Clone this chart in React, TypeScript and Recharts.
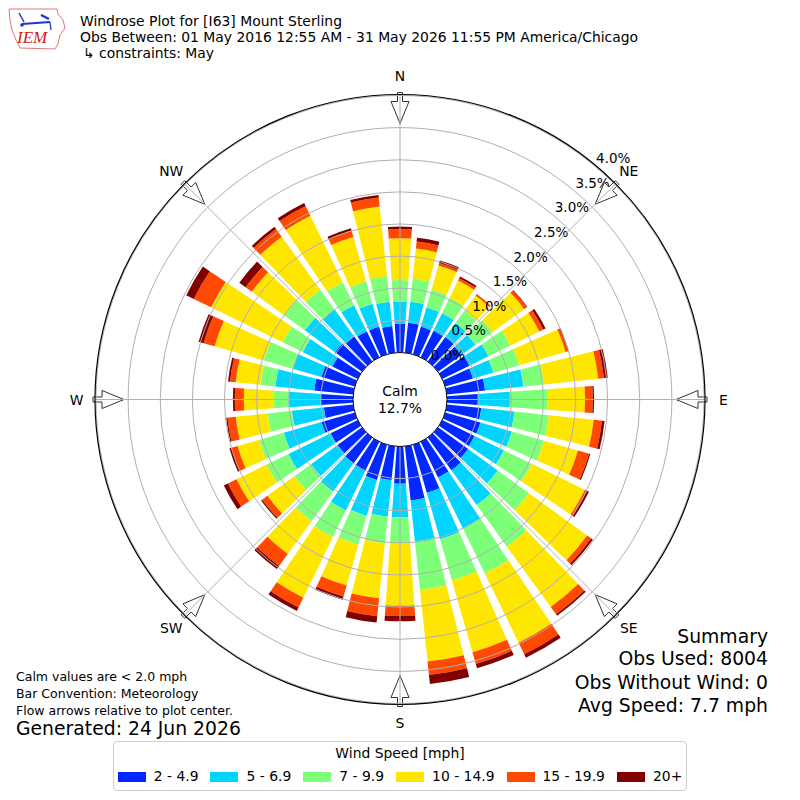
import { RadialBarChart, RadialBar, PolarAngleAxis, PolarRadiusAxis } from "recharts";

// wind direction bins, degrees from north (meteorology: direction the wind blows from)
const DIRECTIONS = [
  "0", "10", "20", "30", "40", "50", "60", "70", "80", "90", "100", "110",
  "120", "130", "140", "150", "160", "170", "180", "190", "200", "210", "220", "230",
  "240", "250", "260", "270", "280", "290", "300", "310", "320", "330", "340", "350",
];

const SPEED_BINS = ["2 - 4.9", "5 - 6.9", "7 - 9.9", "10 - 14.9", "15 - 19.9", "20+"];
const SPEED_COLORS = ["#0028ff", "#00d4ff", "#7dff7a", "#ffe600", "#ff4800", "#800000"];

// frequency (%) per direction for each speed bin
const PCT_2_5 = [
  0.45, 0.47, 0.45, 0.46, 0.47, 0.45, 0.47, 0.45, 0.6, 0.48, 0.54, 0.57,
  0.56, 0.58, 0.63, 0.62, 0.78, 0.85, 0.58, 0.53, 0.57, 0.51, 0.5, 0.47,
  0.47, 0.54, 0.46, 0.5, 0.61, 0.54, 0.44, 0.52, 0.48, 0.45, 0.45, 0.42,
];
const PCT_5_7 = [
  0.34, 0.33, 0.31, 0.3, 0.27, 0.27, 0.33, 0.33, 0.6, 0.5, 0.52, 0.51,
  0.51, 0.57, 0.67, 0.88, 0.75, 0.64, 0.52, 0.57, 0.58, 0.68, 0.54, 0.51,
  0.73, 0.61, 0.5, 0.5, 0.61, 0.47, 0.51, 0.58, 0.52, 0.45, 0.37, 0.38,
];
const PCT_7_10 = [
  0.34, 0.36, 0.29, 0.27, 0.24, 0.33, 0.38, 0.42, 0.32, 0.59, 0.54, 0.52,
  0.48, 0.6, 0.8, 0.78, 0.67, 0.76, 0.4, 0.42, 0.47, 0.46, 0.57, 0.32,
  0.38, 0.4, 0.38, 0.24, 0.23, 0.46, 0.35, 0.4, 0.38, 0.4, 0.36, 0.4,
];
const PCT_10_15 = [
  0.65, 0.47, 0.39, 0.3, 0.29, 0.61, 0.5, 0.75, 0.85, 0.58, 0.7, 0.55,
  0.92, 1.12, 1.16, 1.2, 1.16, 1.12, 0.98, 0.86, 0.66, 1.05, 0.63, 0.52,
  0.52, 0.35, 0.5, 0.46, 0.39, 0.8, 1.24, 0.62, 1.02, 1.15, 0.72, 1.09,
];
const PCT_15_20 = [
  0.14, 0.11, 0.04, 0.04, 0.03, 0.05, 0.07, 0.04, 0.09, 0.12, 0.13, 0.18,
  0.04, 0.08, 0.14, 0.2, 0.19, 0.21, 0.16, 0.28, 0.18, 0.17, 0.23, 0.1,
  0.15, 0.1, 0.13, 0.14, 0.09, 0.18, 0.3, 0.12, 0.15, 0.17, 0.1, 0.14,
];
const PCT_20_UP = [
  0.04, 0.06, 0.04, 0.03, 0.0, 0.01, 0.04, 0.01, 0.06, 0.02, 0.04, 0.02,
  0.03, 0.03, 0.03, 0.06, 0.07, 0.14, 0.08, 0.1, 0.05, 0.06, 0.06, 0.02,
  0.07, 0.03, 0.02, 0.03, 0.03, 0.08, 0.13, 0.12, 0.04, 0.05, 0.04, 0.04,
];

const RADIAL_TICKS = [0, 0.5, 1, 1.5, 2, 2.5, 3, 3.5, 4];
const COMPASS = ["N", "NE", "E", "SE", "S", "SW", "W", "NW"];
const CALM_PCT = "12.7%";

const SERIES = [PCT_2_5, PCT_5_7, PCT_7_10, PCT_10_15, PCT_15_20, PCT_20_UP];
const KEYS = ["b0", "b1", "b2", "b3", "b4", "b5"];

const rows = DIRECTIONS.map((dir, i) => {
  const row: Record<string, string | number> = { dir };
  SERIES.forEach((s, k) => (row[KEYS[k]] = s[i]));
  return row;
});

// geometry
const CX = 400;
const CY = 399.5;
const R0 = 47;
const R1 = 304;
const RMAX = 4;
const FONT = "DejaVu Sans, sans-serif";
const GRID = "#b0b0b0";

const rOf = (p: number) => R0 + (p / RMAX) * (R1 - R0);

function polar(deg: number, r: number) {
  const a = (deg * Math.PI) / 180;
  return { x: CX + r * Math.sin(a), y: CY - r * Math.cos(a) };
}

function arrowPoints(deg: number) {
  const a = (deg * Math.PI) / 180;
  const s = Math.sin(a);
  const c = Math.cos(a);
  const pts: [number, number][] = [
    [307, -2.5], [298, -2.5], [298, -9], [276, 0], [298, 9], [298, 2.5], [307, 2.5],
  ];
  return pts.map(([r, w]) => `${CX + r * s + w * c},${CY - r * c + w * s}`).join(" ");
}

function RadiusTick(props: any) {
  const { x, y, payload } = props;
  return (
    <text
      x={x + 17.8}
      y={y - 8.5}
      textAnchor="middle"
      dominantBaseline="central"
      fontSize={13.5}
      fontFamily={FONT}
      fill="#000"
    >
      {`${Number(payload.value).toFixed(1)}%`}
    </text>
  );
}

function Logo() {
  return (
    <g>
      <polygon
        points="9,9 57,9 58,14 63,20 65,28 60,35 58,44 55,49 20,48 16,40 12,30 10,20"
        fill="none"
        stroke="#d9534f"
        strokeWidth={0.8}
      />
      <line x1={22} y1={24} x2={50} y2={22} stroke="#2233cc" strokeWidth={2} />
      <line x1={19} y1={13} x2={24} y2={22} stroke="#2233cc" strokeWidth={1.5} />
      <line x1={41} y1={15} x2={49} y2={19} stroke="#2233cc" strokeWidth={2.5} />
      <line x1={50} y1={22} x2={51} y2={30} stroke="#2233cc" strokeWidth={1.2} />
      <circle cx={22} cy={25} r={1.8} fill="#2233cc" />
      <text x={17} y={43} fontSize={17} fontStyle="italic" fontFamily="Liberation Serif, serif" fill="#cc2222">
        IEM
      </text>
    </g>
  );
}

export default function App() {
  return (
    <div style={{ position: "absolute", left: 0, top: 0, width: 800, height: 800, background: "#fff", fontFamily: FONT }}>
      <div style={{ position: "absolute", left: 0, top: 0 }}>
        <RadialBarChart
          width={800}
          height={800}
          data={rows}
          layout="centric"
          cx={CX}
          cy={CY}
          innerRadius={R0}
          outerRadius={R1}
          startAngle={85}
          endAngle={-275}
          barCategoryGap="10%"
          margin={{ top: 0, right: 0, bottom: 0, left: 0 }}
        >
          <PolarAngleAxis type="category" dataKey="dir" tick={false} axisLine={false} tickLine={false} />
          {KEYS.map((k, i) => (
            <RadialBar key={k} dataKey={k} stackId="speed" fill={SPEED_COLORS[i]} isAnimationActive={false} />
          ))}
          <PolarRadiusAxis
            type="number"
            domain={[0, RMAX]}
            ticks={RADIAL_TICKS}
            angle={50}
            axisLine={false}
            tick={RadiusTick}
          />
        </RadialBarChart>
      </div>

      <svg width={800} height={800} style={{ position: "absolute", left: 0, top: 0, pointerEvents: "none" }}>
        <Logo />
        <g fontFamily={FONT} fontSize={13.9} fill="#000">
          <text x={80} y={26}>Windrose Plot for [I63] Mount Sterling</text>
          <text x={80} y={42}>Obs Between: 01 May 2016 12:55 AM - 31 May 2026 11:55 PM America/Chicago</text>
          <text x={83} y={58}>↳ constraints: May</text>
        </g>

        {/* flow arrows */}
        {COMPASS.map((_, i) => (
          <polygon key={`a${i}`} points={arrowPoints(i * 45)} fill="#fff" stroke="#333" strokeWidth={1} />
        ))}

        {/* grid drawn over the bars */}
        {RADIAL_TICKS.slice(1).map((p) => (
          <circle key={`g${p}`} cx={CX} cy={CY} r={rOf(p)} fill="none" stroke={GRID} strokeWidth={1} />
        ))}
        {COMPASS.map((_, i) => {
          const a = polar(i * 45, R0);
          const b = polar(i * 45, R1);
          return <line key={`l${i}`} x1={a.x} y1={a.y} x2={b.x} y2={b.y} stroke={GRID} strokeWidth={1} />;
        })}
        <circle cx={CX} cy={CY} r={R1 + 1} fill="none" stroke="#000" strokeWidth={1.2} />
        <circle cx={CX} cy={CY} r={R0} fill="#fff" stroke="#000" strokeWidth={1} />

        <g fontFamily={FONT} fontSize={13.9} fill="#000" textAnchor="middle">
          <text x={CX} y={396}>Calm</text>
          <text x={CX} y={413}>{CALM_PCT}</text>
          {COMPASS.map((lab, i) => {
            const p = polar(i * 45, 323.5);
            return (
              <text key={lab} x={p.x} y={p.y} dominantBaseline="central">
                {lab}
              </text>
            );
          })}
        </g>

        <g fontFamily={FONT} fontSize={18.8} fill="#000" textAnchor="end">
          <text x={768} y={643}>Summary</text>
          <text x={768} y={665}>Obs Used: 8004</text>
          <text x={768} y={689}>Obs Without Wind: 0</text>
          <text x={768} y={712}>Avg Speed: 7.7 mph</text>
        </g>

        <g fontFamily={FONT} fontSize={12.5} fill="#000">
          <text x={16} y={681}>Calm values are &lt; 2.0 mph</text>
          <text x={16} y={698}>Bar Convention: Meteorology</text>
          <text x={16} y={715}>Flow arrows relative to plot center.</text>
        </g>
        <text x={16} y={735} fontFamily={FONT} fontSize={18.8} fill="#000">
          Generated: 24 Jun 2026
        </text>
      </svg>

      <div
        style={{
          position: "absolute",
          left: 113,
          top: 741,
          width: 572,
          height: 48,
          border: "1px solid #cfcfcf",
          borderRadius: 4,
          background: "#fff",
          fontFamily: FONT,
          fontSize: 13.9,
          color: "#000",
        }}
      >
        <div style={{ textAlign: "center", marginTop: 3, lineHeight: "17px" }}>Wind Speed [mph]</div>
        <div style={{ display: "flex", justifyContent: "center", alignItems: "center", gap: 12, marginTop: 6, lineHeight: "17px" }}>
          {SPEED_BINS.map((lab, i) => (
            <div key={lab} style={{ display: "flex", alignItems: "center" }}>
              <span style={{ display: "inline-block", width: 28, height: 10, background: SPEED_COLORS[i] }} />
              <span style={{ marginLeft: 8 }}>{lab}</span>
            </div>
          ))}
        </div>
      </div>
    </div>
  );
}
